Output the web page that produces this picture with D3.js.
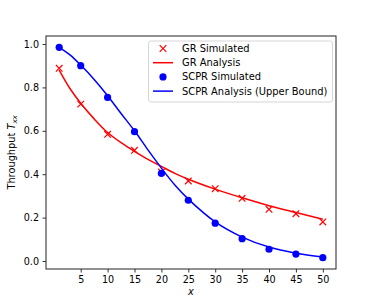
<!DOCTYPE html>
<html lang="en">
<head>
    <meta charset="UTF-8">
    <title>Throughput</title>
    <script src="https://d3js.org/d3.v7.min.js"></script>
    <style>
        body { margin: 0; background: #fff; }
        text { font-family: "DejaVu Sans", sans-serif; fill: #000; }
        .tick text { font-size: 9.6px; }
        .legend text { font-size: 9.9px; }
    </style>
</head>
<body>
    <svg width="374" height="302"></svg>

    <script>
        // Simulated points
        const xSim = [1, 5, 10, 15, 20, 25, 30, 35, 40, 45, 50];
        const grSim = [0.888, 0.723, 0.584, 0.510, 0.41, 0.369, 0.333, 0.289, 0.238, 0.218, 0.180];
        const scprSim = [0.985, 0.900, 0.754, 0.596, 0.404, 0.280, 0.174, 0.103, 0.054, 0.032, 0.015];

        // Analysis curves
        const xCurve = [1, 3, 5, 7.5, 10, 12.5, 15, 17.5, 20, 22.5, 25, 30, 35, 40, 45, 50];
        const grCurve = [0.880, 0.795, 0.727, 0.655, 0.592, 0.545, 0.505, 0.468, 0.436, 0.404, 0.377, 0.331, 0.291, 0.255, 0.223, 0.192];
        const scprCurve = [0.985, 0.950, 0.903, 0.837, 0.762, 0.680, 0.600, 0.512, 0.428, 0.350, 0.285, 0.180, 0.110, 0.064, 0.036, 0.018];

        const xTicks = [5, 10, 15, 20, 25, 30, 35, 40, 45, 50];
        const yTicks = [0.0, 0.2, 0.4, 0.6, 0.8, 1.0];

        const svg = d3.select("svg");
        const mLeft = 46, mRight = 336, mTop = 36, mBottom = 269;

        const x = d3.scaleLinear().domain([-1.45, 52.45]).range([mLeft, mRight]);
        const y = d3.scaleLinear().domain([-0.037, 1.037]).range([mBottom, mTop]);

        // Axes
        const xAxis = svg.append("g")
            .attr("transform", `translate(0,${mBottom})`)
            .call(d3.axisBottom(x).tickValues(xTicks).tickSize(3.5).tickPadding(3.5).tickFormat(d3.format("d")));
        const yAxis = svg.append("g")
            .attr("transform", `translate(${mLeft},0)`)
            .call(d3.axisLeft(y).tickValues(yTicks).tickSize(3.5).tickPadding(3.5).tickFormat(d3.format(".1f")));
        [xAxis, yAxis].forEach(g => {
            g.select(".domain").remove();
            g.selectAll(".tick line").attr("stroke", "#000").attr("stroke-width", 0.8);
        });

        const xy = (xs, ys) => xs.map((v, i) => [v, ys[i]]);
        const line = d3.line().x(d => x(d[0])).y(d => y(d[1])).curve(d3.curveCatmullRom);

        // Frame
        svg.append("rect")
            .attr("x", mLeft).attr("y", mTop)
            .attr("width", mRight - mLeft).attr("height", mBottom - mTop)
            .attr("fill", "none").attr("stroke", "#222").attr("stroke-width", 1);

        // GR
        svg.append("path")
            .attr("d", line(xy(xCurve, grCurve)))
            .attr("fill", "none").attr("stroke", "red").attr("stroke-width", 1.5);

        const cross = (g, cx, cy, s) => {
            g.append("path")
                .attr("d", `M${cx - s},${cy - s}L${cx + s},${cy + s}M${cx - s},${cy + s}L${cx + s},${cy - s}`)
                .attr("stroke", "red").attr("stroke-width", 1.2);
        };
        const grG = svg.append("g");
        xy(xSim, grSim).forEach(d => cross(grG, x(d[0]), y(d[1]), 3.3));

        // SCPR
        svg.append("path")
            .attr("d", line(xy(xCurve, scprCurve)))
            .attr("fill", "none").attr("stroke", "blue").attr("stroke-width", 1.5);

        svg.append("g").selectAll("circle")
            .data(xy(xSim, scprSim))
            .enter()
            .append("circle")
            .attr("cx", d => x(d[0]))
            .attr("cy", d => y(d[1]))
            .attr("r", 3.6)
            .attr("fill", "blue");

        // Labels
        svg.append("text")
            .attr("x", (mLeft + mRight) / 2).attr("y", 295)
            .attr("text-anchor", "middle")
            .style("font-size", "9.8px").style("font-style", "italic")
            .text("x");

        const yl = svg.append("text")
            .attr("transform", `translate(15,${(mTop + mBottom) / 2}) rotate(-90)`)
            .attr("text-anchor", "middle")
            .style("font-size", "9.8px");
        yl.append("tspan").text("Throughput ");
        yl.append("tspan").style("font-style", "italic").text("T");
        yl.append("tspan").style("font-style", "italic").style("font-size", "6.9px").attr("dy", 2).text("xx");

        // Legend
        const legend = svg.append("g").attr("class", "legend");
        legend.append("rect")
            .attr("x", 148.5).attr("y", 41).attr("width", 184).attr("height", 61).attr("rx", 2)
            .attr("fill", "#fff").attr("fill-opacity", 0.8).attr("stroke", "#ccc").attr("stroke-width", 0.8);

        const items = [
            { label: "GR Simulated", color: "red", type: "x" },
            { label: "GR Analysis", color: "red", type: "line" },
            { label: "SCPR Simulated", color: "blue", type: "dot" },
            { label: "SCPR Analysis (Upper Bound)", color: "blue", type: "line" }
        ];
        items.forEach((it, i) => {
            const cy = 48.5 + i * 14.2;
            if (it.type === "line") {
                legend.append("line")
                    .attr("x1", 153).attr("x2", 173).attr("y1", cy).attr("y2", cy)
                    .attr("stroke", it.color).attr("stroke-width", 1.5);
            } else if (it.type === "x") {
                cross(legend, 163, cy, 3.3);
            } else {
                legend.append("circle").attr("cx", 163).attr("cy", cy).attr("r", 3.6).attr("fill", it.color);
            }
            legend.append("text")
                .attr("x", 182).attr("y", cy).attr("dy", "0.35em")
                .text(it.label);
        });
    </script>
</body>
</html>
